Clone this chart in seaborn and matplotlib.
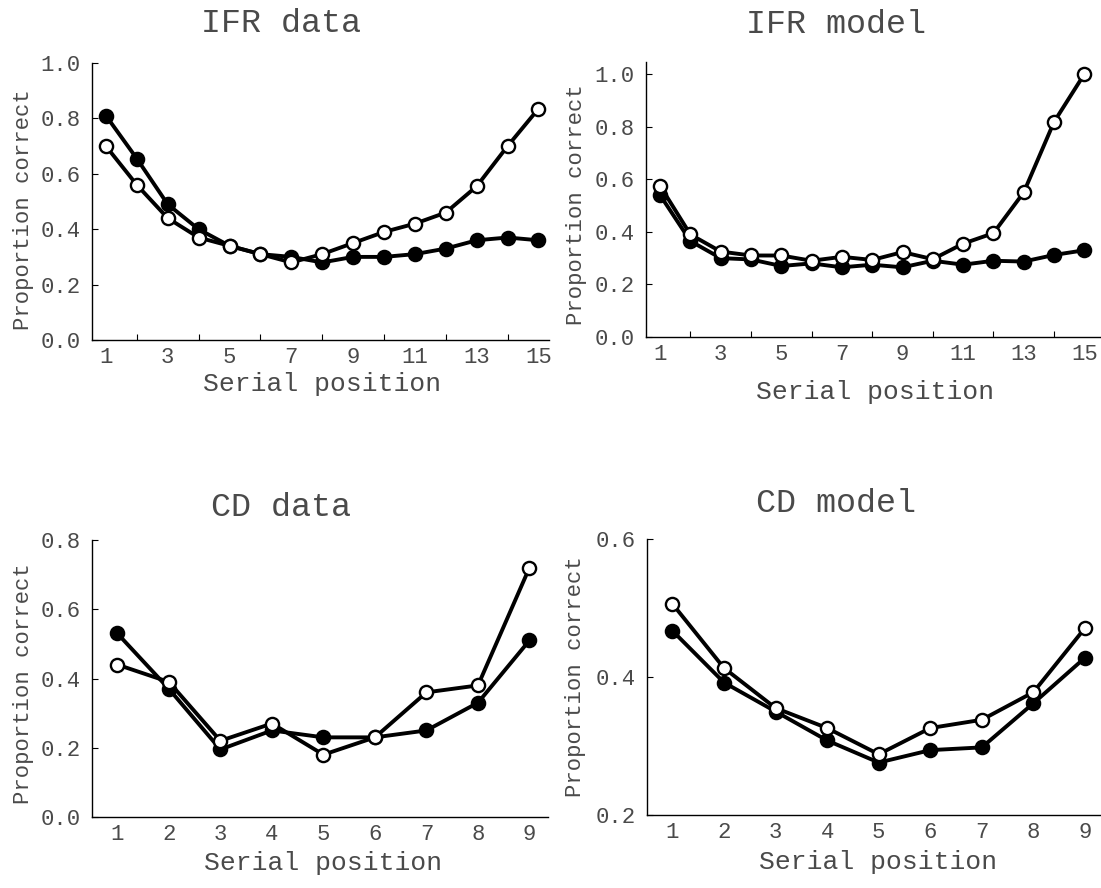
import matplotlib
matplotlib.use("Agg")
import matplotlib.pyplot as plt
from matplotlib.ticker import FixedLocator, FixedFormatter
import pandas as pd
import seaborn as sns

# Serial positions and tick labels
pos15 = list(range(1, 16))
pos9 = list(range(1, 10))
ifr_xticklabels = ["1", "3", "5", "7", "9", "11", "13", "15"]
cd_xticklabels = ["1", "2", "3", "4", "5", "6", "7", "8", "9"]

# Immediate free recall: observed proportions correct
ifr_data_filled = [0.81, 0.655, 0.49, 0.40, 0.34, 0.31, 0.30, 0.28,
                   0.30, 0.30, 0.31, 0.33, 0.36, 0.37, 0.36]
ifr_data_open = [0.70, 0.56, 0.44, 0.37, 0.34, 0.31, 0.28, 0.31,
                 0.35, 0.39, 0.42, 0.46, 0.555, 0.70, 0.835]

# Immediate free recall: model predictions
ifr_model_filled = [0.54, 0.365, 0.30, 0.295, 0.27, 0.28, 0.265, 0.275,
                    0.265, 0.29, 0.275, 0.29, 0.287, 0.312, 0.33]
ifr_model_open = [0.575, 0.39, 0.325, 0.31, 0.31, 0.29, 0.305, 0.293,
                  0.323, 0.296, 0.355, 0.395, 0.55, 0.818, 1.0]

# Continuous distractor: observed proportions correct
cd_data_filled = [0.53, 0.37, 0.195, 0.25, 0.23, 0.23, 0.25, 0.33, 0.51]
cd_data_open = [0.44, 0.39, 0.22, 0.27, 0.18, 0.23, 0.36, 0.38, 0.72]

# Continuous distractor: model predictions
cd_model_filled = [0.467, 0.392, 0.35, 0.308, 0.276, 0.294, 0.298, 0.362, 0.428]
cd_model_open = [0.506, 0.413, 0.355, 0.326, 0.288, 0.326, 0.338, 0.378, 0.471]

sns.set_theme(style="ticks")
plt.rcParams["font.family"] = ["Liberation Mono", "DejaVu Sans Mono"]

TEXT = "#4a4a4a"
W, H = 1101, 888
fig = plt.figure(figsize=(W / 100, H / 100), dpi=100)
fig.patch.set_facecolor("white")


def add_axes_px(left, top, right, bottom):
    return fig.add_axes([left / W, 1 - bottom / H, (right - left) / W, (bottom - top) / H])


def curve(ax, x, y, filled):
    df = pd.DataFrame({"pos": x, "p": y})
    sns.lineplot(data=df, x="pos", y="p", ax=ax, color="black",
                 linewidth=2.8, marker="o", markersize=9.5,
                 markerfacecolor="black" if filled else "white",
                 markeredgecolor="black", markeredgewidth=1.7,
                 zorder=3 if filled else 4)


def style(ax, xlim, ylim, yticks, ylabels, xlabels_pos, xlabels, minor_x,
          title, title_xy, ylab_xy, xlab_xy):
    ax.set_xlim(*xlim)
    ax.set_ylim(*ylim)
    for s in ("top", "right"):
        ax.spines[s].set_visible(False)
    for s in ("left", "bottom"):
        ax.spines[s].set_linewidth(1.0)
        ax.spines[s].set_color("black")
    ax.yaxis.set_major_locator(FixedLocator(yticks))
    ax.yaxis.set_major_formatter(FixedFormatter(ylabels))
    ax.xaxis.set_major_locator(FixedLocator(xlabels_pos))
    ax.xaxis.set_major_formatter(FixedFormatter(xlabels))
    ax.xaxis.set_minor_locator(FixedLocator(minor_x))
    ax.tick_params(axis="y", direction="in", length=4, width=0.8,
                   labelsize=16, pad=8, colors="black", labelcolor=TEXT)
    ax.tick_params(axis="x", which="major", length=0, labelsize=16, pad=5,
                   labelcolor=TEXT)
    ax.tick_params(axis="x", which="minor", direction="in", length=4, width=0.8,
                   colors="black")
    ax.set_title(title, fontsize=24, x=title_xy[0], y=title_xy[1], pad=0,
                 va="center", color=TEXT)
    ax.set_ylabel("Proportion correct", fontsize=16, color=TEXT)
    ax.yaxis.set_label_coords(*ylab_xy)
    ax.set_xlabel("Serial position", fontsize=19, color=TEXT)
    ax.xaxis.set_label_coords(*xlab_xy)
    ax.xaxis.label.set_va("center")
    ax.grid(False)


# IFR data
ax1 = add_axes_px(92, 63, 549, 340)
curve(ax1, pos15, ifr_data_filled, True)
curve(ax1, pos15, ifr_data_open, False)
style(ax1, (0.55, 15.34), (0, 1.0), [0, 0.2, 0.4, 0.6, 0.8, 1.0],
      ["0.0", "0.2", "0.4", "0.6", "0.8", "1.0"],
      [1, 3, 5, 7, 9, 11, 13, 15], ifr_xticklabels, [2, 4, 6, 8, 10, 12, 14],
      "IFR data", (0.414, 1.144), (-0.128, 0.47), (0.503, -0.16))

# IFR model
ax2 = add_axes_px(646, 62, 1101, 337)
curve(ax2, pos15, ifr_model_filled, True)
curve(ax2, pos15, ifr_model_open, False)
style(ax2, (0.536, 15.55), (0, 1.046), [0, 0.2, 0.4, 0.6, 0.8, 1.0],
      ["0.0", "0.2", "0.4", "0.6", "0.8", "1.0"],
      [1, 3, 5, 7, 9, 11, 13, 15], ifr_xticklabels, [2, 4, 6, 8, 10, 12, 14],
      "IFR model", (0.418, 1.135), (-0.13, 0.48), (0.503, -0.2))

# CD data
ax3 = add_axes_px(92, 540, 548, 817)
curve(ax3, pos9, cd_data_filled, True)
curve(ax3, pos9, cd_data_open, False)
style(ax3, (0.507, 9.36), (0, 0.8), [0, 0.2, 0.4, 0.6, 0.8],
      ["0.0", "0.2", "0.4", "0.6", "0.8"],
      pos9, cd_xticklabels, [2, 4, 6, 8],
      "CD data", (0.414, 1.116), (-0.128, 0.48), (0.506, -0.165))

# CD model
ax4 = add_axes_px(647, 539, 1101, 815)
curve(ax4, pos9, cd_model_filled, True)
curve(ax4, pos9, cd_model_open, False)
style(ax4, (0.507, 9.31), (0.2, 0.6), [0.2, 0.4, 0.6],
      ["0.2", "0.4", "0.6"],
      pos9, cd_xticklabels, [2, 4, 6, 8],
      "CD model", (0.416, 1.127), (-0.135, 0.5), (0.509, -0.17))

fig.savefig("out.png", dpi=100, facecolor="white")
